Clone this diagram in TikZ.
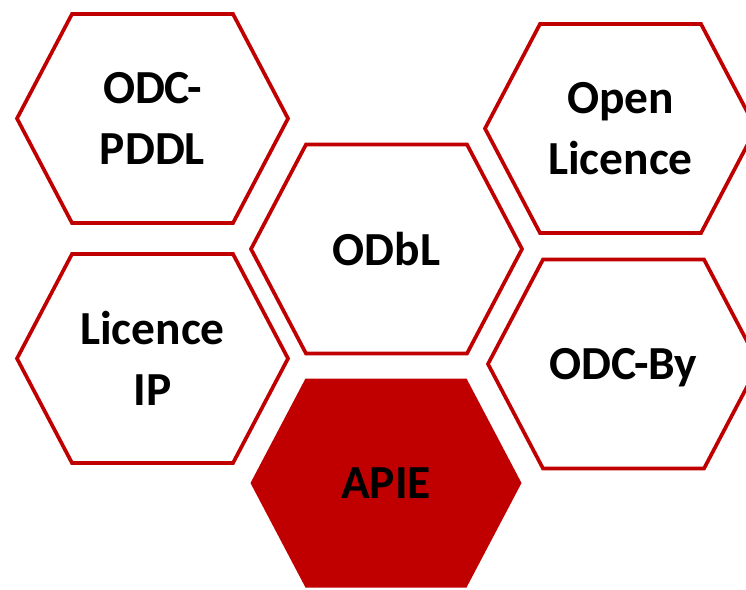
\documentclass[tikz,border=0pt]{standalone}
\usepackage{fontspec}
\setmainfont{Carlito}
\definecolor{licred}{HTML}{C00000}

\tikzset{
	hexa/.style={draw=licred, line width=2.1pt, line join=miter},
	hexfull/.style={fill=licred, draw=none},
	lbl/.style={font=\fontsize{27}{35}\selectfont\bfseries, align=center, text depth=0pt},
	hexcell/.pic={\path[pic actions] (-135.5,0) -- (-80.5,-104.5) -- (80.5,-104.5) -- (135.5,0) -- (80.5,104.5) -- (-80.5,104.5) -- cycle;}
}

\begin{document}
\begin{tikzpicture}[x=0.02cm, y=-0.02cm]
	\clip (0,0) rectangle (746,589);
	% licence cells
	\pic[hexa] at (152.5,118.5) {hexcell};
	\pic[hexa] at (152.5,358.5) {hexcell};
	\pic[hexa] at (386.5,249) {hexcell};
	\pic[hexfull] at (386,483) {hexcell};
	\pic[hexa] at (620.5,128.5) {hexcell};
	\pic[hexa] at (623.5,364) {hexcell};
	% labels
	\node[lbl] (pddl) at (152.5,118.5) {ODC-\\PDDL};
	\node[lbl] (ip) at (152.5,358.5) {Licence\\IP};
	\node[lbl] (odbl) at (386.5,249) {ODbL};
	\node[lbl] (apie) at (386,483) {APIE};
	\node[lbl] (open) at (620.5,128.5) {Open\\Licence};
	\node[lbl] (odcby) at (623.5,364) {ODC-By};
\end{tikzpicture}
\end{document}
